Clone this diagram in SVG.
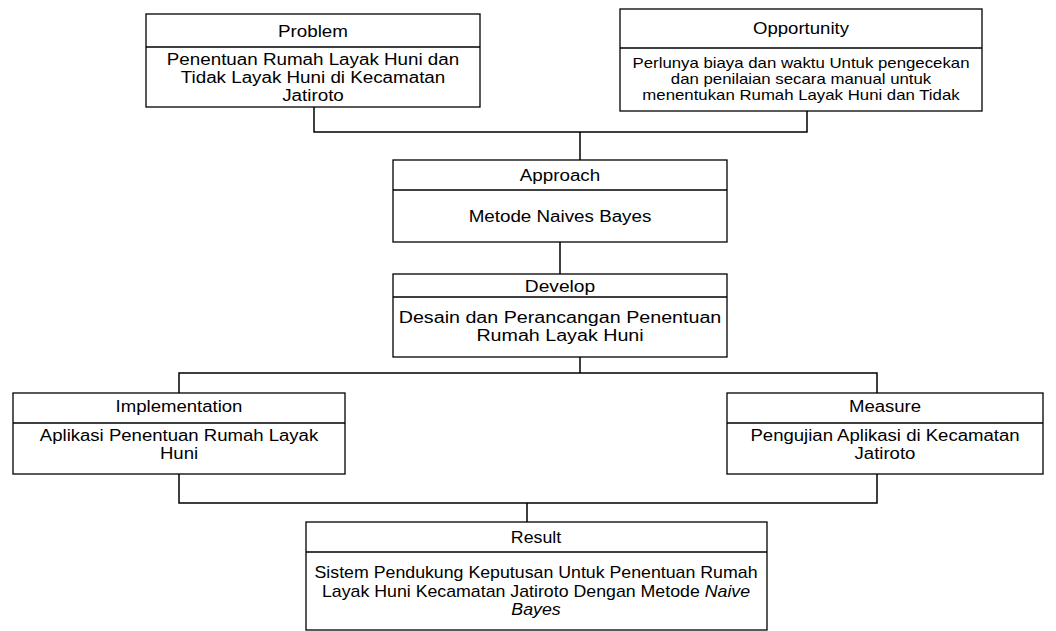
<svg xmlns="http://www.w3.org/2000/svg" width="1056" height="631" viewBox="0 0 1056 631">
<style>
.box{fill:#fff;stroke:#000;stroke-width:1.3}
.div{stroke:#000;stroke-width:1.3}
.con{fill:none;stroke:#000;stroke-width:1.5}
text{font-family:"Liberation Sans",Arial,sans-serif;fill:#000;text-anchor:middle}
.t16{font-size:16px}
.t14{font-size:14px}
</style>
<rect width="1056" height="631" fill="#fff"/>
<g id="connectors">
<path class="con" d="M314,107 V132 H807 V111"/>
<path class="con" d="M580,132 V160"/>
<path class="con" d="M560,242 V274"/>
<path class="con" d="M580,357 V373"/>
<path class="con" d="M179,393 V373 H877 V393"/>
<path class="con" d="M179,474 V503 H877 V474"/>
<path class="con" d="M527,503 V522"/>
</g>
<g id="problem">
<rect class="box" x="146" y="14" width="334" height="93"/>
<line class="div" x1="146" y1="47" x2="480" y2="47"/>
<text class="t16" transform="translate(313,37) scale(1.175,1)">Problem</text>
<text class="t16" transform="translate(313,65) scale(1.175,1)">Penentuan Rumah Layak Huni dan</text>
<text class="t16" transform="translate(313,83) scale(1.175,1)">Tidak Layak Huni di Kecamatan</text>
<text class="t16" transform="translate(313,101) scale(1.175,1)">Jatiroto</text>
</g>
<g id="opportunity">
<rect class="box" x="620" y="9" width="362" height="102"/>
<line class="div" x1="620" y1="48" x2="982" y2="48"/>
<text class="t16" transform="translate(801,34) scale(1.16,1)">Opportunity</text>
<text class="t14" transform="translate(801,68) scale(1.2,1)">Perlunya biaya dan waktu Untuk pengecekan</text>
<text class="t14" transform="translate(801,84) scale(1.2,1)">dan penilaian secara manual untuk</text>
<text class="t14" transform="translate(801,99.5) scale(1.2,1)">menentukan Rumah Layak Huni dan Tidak</text>
</g>
<g id="approach">
<rect class="box" x="393" y="160" width="334" height="82"/>
<line class="div" x1="393" y1="190" x2="727" y2="190"/>
<text class="t16" transform="translate(560,181) scale(1.175,1)">Approach</text>
<text class="t16" transform="translate(560,222) scale(1.175,1)">Metode Naives Bayes</text>
</g>
<g id="develop">
<rect class="box" x="393" y="274" width="334" height="83"/>
<line class="div" x1="393" y1="297" x2="727" y2="297"/>
<text class="t16" transform="translate(560,292) scale(1.2,1)">Develop</text>
<text class="t16" transform="translate(560,323) scale(1.23,1)">Desain dan Perancangan Penentuan</text>
<text class="t16" transform="translate(560,341) scale(1.23,1)">Rumah Layak Huni</text>
</g>
<g id="implementation">
<rect class="box" x="13" y="393" width="332" height="81"/>
<line class="div" x1="13" y1="423" x2="345" y2="423"/>
<text class="t16" transform="translate(179,412) scale(1.16,1)">Implementation</text>
<text class="t16" transform="translate(179,441) scale(1.16,1)">Aplikasi Penentuan Rumah Layak</text>
<text class="t16" transform="translate(179,459) scale(1.16,1)">Huni</text>
</g>
<g id="measure">
<rect class="box" x="727" y="393" width="316" height="81"/>
<line class="div" x1="727" y1="423" x2="1043" y2="423"/>
<text class="t16" transform="translate(885,412) scale(1.16,1)">Measure</text>
<text class="t16" transform="translate(885,441) scale(1.16,1)">Pengujian Aplikasi di Kecamatan</text>
<text class="t16" transform="translate(885,459) scale(1.16,1)">Jatiroto</text>
</g>
<g id="result">
<rect class="box" x="306" y="522" width="461" height="108"/>
<line class="div" x1="306" y1="552" x2="767" y2="552"/>
<text class="t16" transform="translate(536,543) scale(1.11,1)">Result</text>
<text class="t16" transform="translate(536,578) scale(1.11,1)">Sistem Pendukung Keputusan Untuk Penentuan Rumah</text>
<text class="t16" transform="translate(536,597) scale(1.11,1)">Layak Huni Kecamatan Jatiroto Dengan Metode <tspan font-style="italic">Naive</tspan></text>
<text class="t16" font-style="italic" transform="translate(536,615) scale(1.11,1)">Bayes</text>
</g>
</svg>
